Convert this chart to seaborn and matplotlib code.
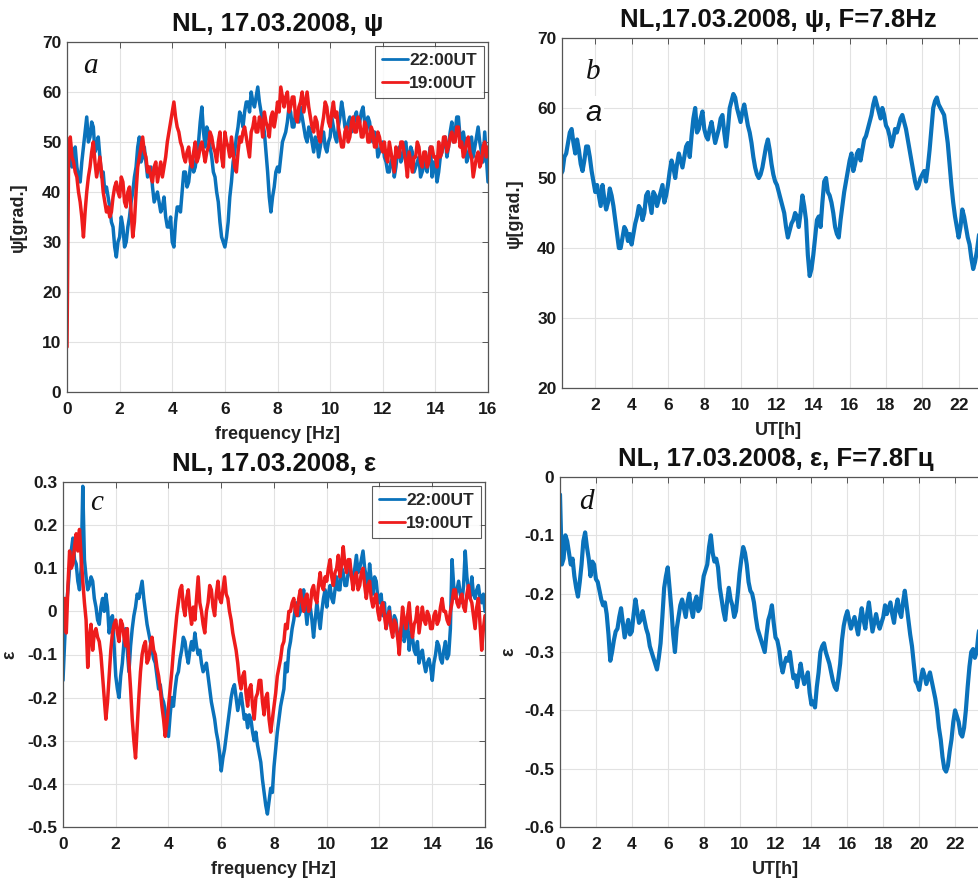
import numpy as np
import pandas as pd
import matplotlib
matplotlib.use("Agg")
import matplotlib.pyplot as plt
import seaborn as sns

# ---------------- data ----------------
# panel a: psi vs frequency (0..16 Hz), 16 samples per Hz row
psi_22 = [44, 47, 50, 45, 46, 49, 45, 43, 42, 46, 49, 52, 55, 50, 51, 54,
          53, 48, 49, 51, 47, 43, 44, 40, 41, 39, 37, 34, 33, 29, 27, 30,
          31, 35, 33, 29, 30, 33, 35, 38, 40, 43, 45, 49, 51, 46, 47, 49,
          46, 43, 44, 45, 41, 38, 39, 40, 38, 36, 37, 39, 35, 33, 33, 35,
          30, 29, 34, 37, 37, 36, 40, 44, 44, 41, 42, 45, 47, 44, 45, 48,
          50, 54, 57, 52, 49, 53, 52, 49, 47, 44, 43, 40, 38, 34, 31, 30,
          29, 31, 34, 39, 42, 46, 48, 51, 53, 56, 55, 53, 56, 58, 58, 56,
          60, 58, 57, 59, 61, 58, 56, 54, 52, 48, 44, 39, 36, 39, 41, 44,
          45, 44, 47, 50, 51, 52, 54, 57, 56, 53, 53, 56, 55, 54, 57, 55,
          53, 51, 50, 53, 52, 50, 48, 51, 50, 47, 49, 51, 52, 49, 48, 50,
          51, 55, 53, 51, 50, 53, 55, 58, 56, 53, 52, 54, 55, 52, 53, 55,
          56, 53, 54, 56, 57, 54, 52, 55, 54, 51, 50, 52, 51, 47, 48, 49,
          50, 47, 46, 44, 44, 46, 47, 43, 45, 48, 49, 46, 47, 49, 50, 47,
          46, 49, 48, 44, 45, 46, 47, 43, 44, 45, 46, 44, 47, 49, 43, 46,
          45, 42, 44, 47, 48, 50, 51, 47, 49, 52, 54, 50, 52, 55, 55, 51,
          49, 52, 50, 46, 47, 49, 51, 47, 49, 51, 53, 50, 48, 46, 52, 47,
          42]
psi_19 = [9, 48, 51, 47, 46, 44, 43, 40, 38, 35, 31, 36, 40, 43, 45, 48,
          50, 46, 43, 45, 47, 44, 40, 38, 36, 37, 35, 36, 39, 41, 42, 40,
          39, 43, 42, 38, 37, 40, 41, 36, 31, 34, 40, 45, 47, 49, 51, 48,
          47, 44, 45, 43, 42, 45, 46, 42, 44, 46, 43, 45, 47, 50, 52, 54,
          56, 58, 55, 53, 52, 50, 49, 47, 46, 48, 49, 46, 45, 48, 50, 46,
          47, 49, 50, 48, 46, 48, 49, 52, 51, 49, 48, 46, 50, 52, 47, 45,
          52, 50, 49, 47, 51, 48, 45, 44, 48, 51, 50, 52, 53, 51, 49, 47,
          52, 53, 55, 52, 52, 55, 54, 51, 56, 54, 53, 51, 55, 56, 53, 55,
          58, 56, 61, 59, 57, 59, 60, 56, 57, 59, 59, 55, 54, 57, 58, 60,
          56, 58, 60, 57, 55, 53, 52, 55, 54, 51, 50, 53, 55, 58, 57, 54,
          53, 56, 58, 55, 56, 53, 51, 49, 49, 52, 53, 50, 51, 54, 55, 52,
          52, 55, 54, 51, 51, 54, 53, 50, 50, 53, 52, 49, 49, 52, 51, 49,
          48, 50, 47, 46, 50, 48, 46, 44, 49, 47, 47, 50, 50, 48, 46, 43,
          48, 46, 44, 47, 47, 50, 49, 46, 45, 48, 48, 45, 46, 49, 49, 47,
          47, 45, 50, 47, 48, 51, 51, 48, 49, 51, 52, 50, 50, 53, 53, 49,
          50, 47, 48, 50, 51, 48, 47, 43, 45, 47, 48, 45, 46, 49, 50, 47,
          49]

# panel c: epsilon vs frequency
eps_22 = [-0.16, -0.07, 0.01, 0.05, 0.10, 0.14, 0.17, 0.12, 0.11, 0.07, 0.05, 0.10, 0.29, 0.12, 0.08, 0.05,
          0.06, 0.08, 0.07, 0.03, 0.01, -0.02, -0.03, 0.01, 0.03, 0.00, 0.04, 0.01, -0.05, -0.02, -0.01, -0.08,
          -0.15, -0.18, -0.20, -0.15, -0.12, -0.07, -0.04, -0.09, -0.14, -0.08, -0.04, -0.01, 0.01, 0.04, 0.03, 0.05,
          0.07, 0.03, 0.00, -0.03, -0.05, -0.07, -0.09, -0.11, -0.12, -0.15, -0.18, -0.17, -0.20, -0.21, -0.23, -0.26,
          -0.29, -0.24, -0.20, -0.22, -0.18, -0.15, -0.14, -0.11, -0.09, -0.06, -0.07, -0.10, -0.12, -0.09, -0.07, -0.09,
          -0.05, -0.08, -0.10, -0.09, -0.12, -0.14, -0.13, -0.12, -0.15, -0.18, -0.21, -0.23, -0.25, -0.28, -0.30, -0.33,
          -0.37, -0.34, -0.32, -0.29, -0.26, -0.23, -0.20, -0.18, -0.17, -0.20, -0.23, -0.21, -0.19, -0.22, -0.25, -0.24,
          -0.27, -0.24, -0.25, -0.28, -0.30, -0.28, -0.31, -0.33, -0.35, -0.39, -0.42, -0.45, -0.47, -0.44, -0.41, -0.42,
          -0.36, -0.32, -0.28, -0.25, -0.22, -0.20, -0.18, -0.12, -0.14, -0.09, -0.07, -0.04, -0.02, 0.01, 0.02, -0.01,
          0.00, 0.03, 0.05, 0.01, -0.03, 0.02, 0.01, -0.02, -0.06, -0.02, 0.02, -0.01, -0.04, 0.00, 0.03, 0.05,
          0.01, 0.04, 0.06, 0.03, 0.02, 0.05, 0.08, 0.05, 0.05, 0.10, 0.09, 0.06, 0.06, 0.09, 0.11, 0.08,
          0.07, 0.10, 0.13, 0.09, 0.10, 0.12, 0.14, 0.10, 0.08, 0.05, 0.11, 0.07, 0.04, 0.08, 0.07, 0.03,
          0.02, 0.04, -0.01, 0.02, -0.04, -0.02, 0.01, -0.03, -0.05, -0.01, -0.02, -0.06, -0.07, -0.04, -0.03, -0.07,
          -0.05, -0.02, -0.09, -0.05, -0.06, -0.09, -0.10, -0.07, -0.12, -0.10, -0.09, -0.12, -0.14, -0.12, -0.11, -0.13,
          -0.16, -0.12, -0.10, -0.07, -0.08, -0.11, -0.12, -0.09, -0.07, -0.11, -0.10, -0.04, 0.12, 0.06, 0.03, 0.05,
          0.07, 0.04, 0.02, 0.06, 0.14, 0.08, 0.05, 0.03, 0.08, 0.04, 0.03, 0.05, 0.06, 0.03, 0.02, 0.04,
          0.00]
eps_19 = [0.00, 0.03, -0.05, 0.06, 0.14, 0.10, 0.11, 0.15, 0.18, 0.14, 0.19, 0.13, 0.07, 0.02, -0.02, -0.13,
          -0.06, -0.03, -0.09, -0.05, -0.04, -0.06, -0.07, -0.10, -0.15, -0.20, -0.25, -0.21, -0.15, -0.09, -0.05, -0.03,
          -0.02, -0.05, -0.07, -0.02, -0.03, -0.06, -0.08, -0.04, -0.12, -0.18, -0.25, -0.30, -0.34, -0.27, -0.20, -0.14,
          -0.10, -0.08, -0.07, -0.12, -0.11, -0.08, -0.06, -0.09, -0.10, -0.13, -0.15, -0.18, -0.22, -0.25, -0.29, -0.26,
          -0.22, -0.18, -0.14, -0.09, -0.05, -0.01, 0.02, 0.05, 0.06, 0.01, -0.01, 0.03, 0.05, 0.00, -0.03, 0.01,
          -0.02, 0.03, 0.08, 0.02, 0.00, -0.03, -0.05, 0.00, 0.02, 0.06, 0.05, 0.01, -0.01, 0.04, 0.07, 0.03,
          0.02, 0.05, 0.08, 0.04, 0.03, 0.00, -0.02, -0.05, -0.07, -0.09, -0.12, -0.16, -0.18, -0.15, -0.14, -0.19,
          -0.22, -0.18, -0.17, -0.22, -0.25, -0.20, -0.19, -0.16, -0.16, -0.21, -0.24, -0.20, -0.19, -0.25, -0.28, -0.25,
          -0.22, -0.19, -0.15, -0.13, -0.11, -0.08, -0.07, -0.03, -0.04, 0.00, 0.00, 0.02, 0.03, 0.00, -0.01, 0.03,
          0.05, 0.02, 0.00, 0.03, 0.04, 0.00, 0.01, 0.05, 0.06, 0.03, 0.02, 0.06, 0.09, 0.06, 0.05, 0.08,
          0.07, 0.10, 0.12, 0.08, 0.06, 0.09, 0.10, 0.13, 0.08, 0.11, 0.15, 0.11, 0.09, 0.12, 0.12, 0.08,
          0.05, 0.08, 0.09, 0.05, 0.06, 0.09, 0.10, 0.06, 0.03, 0.06, 0.07, 0.03, 0.01, 0.03, 0.04, 0.00,
          -0.02, 0.01, 0.02, -0.01, -0.04, -0.01, 0.00, -0.04, -0.06, -0.02, -0.03, -0.06, -0.10, -0.04, 0.01, -0.02,
          -0.04, -0.01, 0.02, -0.03, -0.06, -0.03, -0.02, 0.01, -0.05, -0.02, 0.01, -0.02, -0.03, 0.00, -0.01, -0.04,
          -0.04, -0.01, 0.00, -0.03, -0.02, 0.01, 0.03, 0.00, 0.00, -0.02, -0.03, 0.00, 0.02, 0.05, 0.05, 0.02,
          0.01, 0.03, 0.04, 0.01, 0.00, 0.04, 0.06, 0.03, 0.02, -0.01, -0.04, 0.01, 0.03, -0.03, -0.09, -0.04,
          -0.01]

# panel b: psi at F=7.8 Hz vs UT (0.1 .. 24 h, one row per 2 h)
psi_day = [50.5, 51, 53, 53.5, 55, 56.5, 57, 55, 53.5, 55.5, 54, 52, 51, 52.5, 54.5, 54.5, 53, 51, 49.5, 48,
           49, 47.5, 46, 49, 47, 45.5, 46.5, 48.5, 47.5, 46, 44, 42, 40, 40, 41.5, 43, 42.5, 41, 42, 40.5,
           42, 43.5, 44.5, 46, 45.5, 44, 45, 47.5, 48, 46.5, 45, 48, 47.5, 46, 47, 48, 49, 46.5, 47.5, 49,
           51, 52.5, 51.5, 50, 52, 53.5, 52.5, 51.5, 53, 54.5, 55, 53, 56, 58.5, 60, 56.5, 57, 58.5, 59.5, 57,
           56, 55.5, 57, 58, 56.5, 55, 56, 57, 58.5, 59, 56.5, 54.5, 57, 60, 61, 62, 61.5, 60, 59, 58,
           59.5, 60.5, 59, 57.5, 56.5, 55, 53, 51.5, 50.5, 50, 50.5, 51.5, 53, 54.5, 55.5, 54, 52, 50.5, 49.5, 49,
           48, 47, 46, 45, 43, 41.5, 42.5, 43.5, 44, 45, 44.5, 43, 45, 47.5, 46, 44, 39, 36, 37, 39,
           41.5, 44, 44.5, 43, 46.5, 49.5, 50, 48, 47.5, 46.5, 45, 43, 42, 41.5, 44, 46, 48, 49.5, 51, 52.5,
           53.5, 51, 52, 53.5, 54, 52.5, 54, 55.5, 56, 57, 58, 59, 60.5, 61.5, 60.5, 59.5, 58.5, 60, 59, 57.5,
           57, 56, 54.5, 55.5, 57, 56.5, 57.5, 58.5, 59, 58, 57, 55.5, 54, 52.5, 51, 49.5, 48.5, 49, 50, 50.5,
           51, 49.5, 51.5, 54, 57, 60, 61, 61.5, 60.5, 60, 59.5, 59, 57, 55, 52, 49, 46.5, 44.5, 43, 41.5,
           43, 45.5, 44.5, 43, 41.5, 40.5, 38.5, 37, 38, 39.5, 41.5, 43.5, 43, 42, 43, 44, 44.5, 43, 44, 45]

# panel d: epsilon at F=7.8 Hz vs UT (0 .. 24 h)
eps_day = [-0.03,
           -0.15, -0.14, -0.10, -0.11, -0.13, -0.15, -0.14, -0.17, -0.19, -0.205, -0.18, -0.15, -0.11, -0.095, -0.12, -0.14, -0.17, -0.145, -0.15, -0.175,
           -0.18, -0.195, -0.21, -0.22, -0.215, -0.235, -0.27, -0.315, -0.30, -0.28, -0.265, -0.26, -0.24, -0.225, -0.25, -0.275, -0.26, -0.245, -0.27, -0.265,
           -0.235, -0.21, -0.23, -0.25, -0.245, -0.23, -0.245, -0.26, -0.27, -0.29, -0.30, -0.31, -0.32, -0.33, -0.31, -0.285, -0.24, -0.19, -0.17, -0.155,
           -0.19, -0.225, -0.27, -0.30, -0.26, -0.24, -0.22, -0.21, -0.225, -0.24, -0.215, -0.20, -0.225, -0.24, -0.215, -0.205, -0.23, -0.225, -0.195, -0.17,
           -0.16, -0.15, -0.12, -0.10, -0.13, -0.145, -0.14, -0.155, -0.19, -0.21, -0.23, -0.245, -0.215, -0.19, -0.21, -0.22, -0.24, -0.23, -0.20, -0.165,
           -0.14, -0.12, -0.13, -0.15, -0.18, -0.195, -0.20, -0.215, -0.24, -0.26, -0.27, -0.28, -0.29, -0.30, -0.27, -0.245, -0.235, -0.22, -0.25, -0.275,
           -0.28, -0.295, -0.32, -0.335, -0.32, -0.31, -0.315, -0.30, -0.325, -0.345, -0.34, -0.36, -0.34, -0.32, -0.34, -0.355, -0.345, -0.335, -0.37, -0.39,
           -0.385, -0.395, -0.36, -0.335, -0.30, -0.29, -0.285, -0.30, -0.31, -0.32, -0.335, -0.35, -0.36, -0.365, -0.345, -0.32, -0.28, -0.255, -0.24, -0.23,
           -0.245, -0.26, -0.25, -0.24, -0.255, -0.27, -0.245, -0.225, -0.245, -0.26, -0.235, -0.215, -0.24, -0.265, -0.25, -0.235, -0.25, -0.26, -0.25, -0.24,
           -0.22, -0.235, -0.225, -0.215, -0.235, -0.25, -0.225, -0.21, -0.23, -0.24, -0.215, -0.195, -0.22, -0.245, -0.27, -0.29, -0.32, -0.35, -0.355, -0.365,
           -0.345, -0.33, -0.34, -0.355, -0.345, -0.335, -0.35, -0.365, -0.38, -0.40, -0.43, -0.45, -0.48, -0.50, -0.505, -0.495, -0.47, -0.45, -0.42, -0.40,
           -0.41, -0.42, -0.44, -0.445, -0.43, -0.40, -0.36, -0.325, -0.30, -0.295, -0.31, -0.30, -0.27, -0.25, -0.26, -0.28, -0.285, -0.27, -0.26, -0.26]

series_labels = ["22:00UT", "19:00UT"]
titles = ["NL, 17.03.2008, \u03c8", "NL,17.03.2008, \u03c8, F=7.8Hz",
          "NL, 17.03.2008, \u03b5", "NL, 17.03.2008, \u03b5, F=7.8\u0413\u0446"]

f_22 = np.linspace(0, 16, len(psi_22))
f_19 = np.linspace(0, 16, len(psi_19))
fe_22 = np.linspace(0, 16, len(eps_22))
fe_19 = np.linspace(0, 16, len(eps_19))
ut_b = np.linspace(0.1, 24, len(psi_day))
ut_d = np.linspace(0, 24, len(eps_day))

# ---------------- style ----------------
sns.set_theme(style="whitegrid")
plt.rcParams['font.family'] = ['Liberation Sans', 'DejaVu Sans']
plt.rcParams['font.weight'] = 'bold'
plt.rcParams['axes.unicode_minus'] = False

BLUE = '#0a72bb'
RED = '#ee1c1c'

fig = plt.figure(figsize=(9.79, 8.84), dpi=100)
fig.patch.set_facecolor('white')

def frac(l, t, r, b):
    return [l / 979, 1 - b / 884, (r - l) / 979, (b - t) / 884]

ax_a = fig.add_axes(frac(67, 42, 488, 392))
ax_b = fig.add_axes(frac(562, 38, 995, 388))
ax_c = fig.add_axes(frac(63, 482, 485, 827))
ax_d = fig.add_axes(frac(560, 477, 991, 827))

def style(ax):
    ax.set_facecolor('white')
    ax.grid(True, color='#e2e2e2', lw=0.8)
    for s in ax.spines.values():
        s.set_visible(True)
        s.set_color('#555555')
        s.set_linewidth(0.9)
    ax.tick_params(direction='in', length=4, width=0.7, color='#555555',
                   top=True, right=True, labelsize=12.5, labelcolor='#1a1a1a')
    ax.tick_params(axis='x', pad=7)
    ax.tick_params(axis='y', pad=4)

LW = 2.5
sns.lineplot(x=f_22, y=psi_22, ax=ax_a, color=BLUE, lw=LW, label=series_labels[0])
sns.lineplot(x=f_19, y=psi_19, ax=ax_a, color=RED, lw=LW, label=series_labels[1])
sns.lineplot(x=ut_b, y=psi_day, ax=ax_b, color=BLUE, lw=3.0)
sns.lineplot(x=fe_22, y=eps_22, ax=ax_c, color=BLUE, lw=LW, label=series_labels[0])
sns.lineplot(x=fe_19, y=eps_19, ax=ax_c, color=RED, lw=LW, label=series_labels[1])
sns.lineplot(x=ut_d, y=eps_day, ax=ax_d, color=BLUE, lw=3.0)

for ax in (ax_a, ax_b, ax_c, ax_d):
    style(ax)

ax_a.set_xlim(0, 16); ax_a.set_ylim(0, 70)
ax_a.set_xticks(np.arange(0, 17, 2)); ax_a.set_yticks(np.arange(0, 71, 10))
ax_c.set_xlim(0, 16); ax_c.set_ylim(-0.5, 0.3)
ax_c.set_xticks(np.arange(0, 17, 2))
ax_c.set_yticks([-0.5, -0.4, -0.3, -0.2, -0.1, 0, 0.1, 0.2, 0.3])
ax_c.set_yticklabels(["-0.5", "-0.4", "-0.3", "-0.2", "-0.1", "0", "0.1", "0.2", "0.3"])
ax_b.set_xlim(0.17, 24); ax_b.set_ylim(20, 70)
ax_b.set_xticks(np.arange(2, 23, 2)); ax_b.set_yticks(np.arange(20, 71, 10))
ax_d.set_xlim(0, 24); ax_d.set_ylim(-0.6, 0)
ax_d.set_xticks(np.arange(0, 23, 2))
ax_d.set_yticks([-0.6, -0.5, -0.4, -0.3, -0.2, -0.1, 0])
ax_d.set_yticklabels(["-0.6", "-0.5", "-0.4", "-0.3", "-0.2", "-0.1", "0"])

for ax, t in zip((ax_a, ax_b, ax_c, ax_d), titles):
    ax.set_title(t, fontsize=18.5, fontweight='bold', pad=8, color='#111111')

lab_kw = dict(fontsize=13, fontweight='bold', color='#222222')
ax_a.set_xlabel("frequency [Hz]", labelpad=7, **lab_kw)
ax_c.set_xlabel("frequency [Hz]", labelpad=7, **lab_kw)
ax_b.set_xlabel("UT[h]", labelpad=7, **lab_kw)
ax_d.set_xlabel("UT[h]", labelpad=7, **lab_kw)
ax_a.set_ylabel("\u03c8[grad.]", **lab_kw)
ax_b.set_ylabel("\u03c8[grad.]", **lab_kw)
ax_c.set_ylabel("\u03b5", **lab_kw)
ax_d.set_ylabel("\u03b5", **lab_kw)
ax_a.yaxis.set_label_coords(-0.095, 0.5)
ax_b.yaxis.set_label_coords(-0.09, 0.5)
ax_c.yaxis.set_label_coords(-0.105, 0.5)
ax_d.yaxis.set_label_coords(-0.10, 0.5)

for ax in (ax_a, ax_c):
    leg = ax.legend(loc='upper right', fontsize=12.5, frameon=True, fancybox=False,
                    handlelength=1.5, handletextpad=0.05, borderpad=0.4,
                    borderaxespad=0.25, labelspacing=0.45)
    leg.get_frame().set_edgecolor('#333333')
    leg.get_frame().set_linewidth(0.8)
    for line in leg.get_lines():
        line.set_linewidth(2.0)
    for txt in leg.get_texts():
        txt.set_fontweight('bold')

let_kw = dict(family='Liberation Serif', style='italic', fontweight='normal',
              fontsize=21, ha='center', va='center', color='#111111')
fig.text(90 / 979, 1 - 66 / 884, 'a', **let_kw)
fig.text(593 / 979, 1 - 72 / 884, 'b', **let_kw)
fig.text(593 / 979, 1 - 113 / 884, 'a', bbox=dict(facecolor='white', edgecolor='none', pad=2),
         **{**let_kw, 'family': 'Liberation Sans'})
fig.text(97 / 979, 1 - 503 / 884, 'c', **let_kw)
fig.text(586 / 979, 1 - 502 / 884, 'd', **let_kw)

fig.savefig("out.png", dpi=100, facecolor='white')
